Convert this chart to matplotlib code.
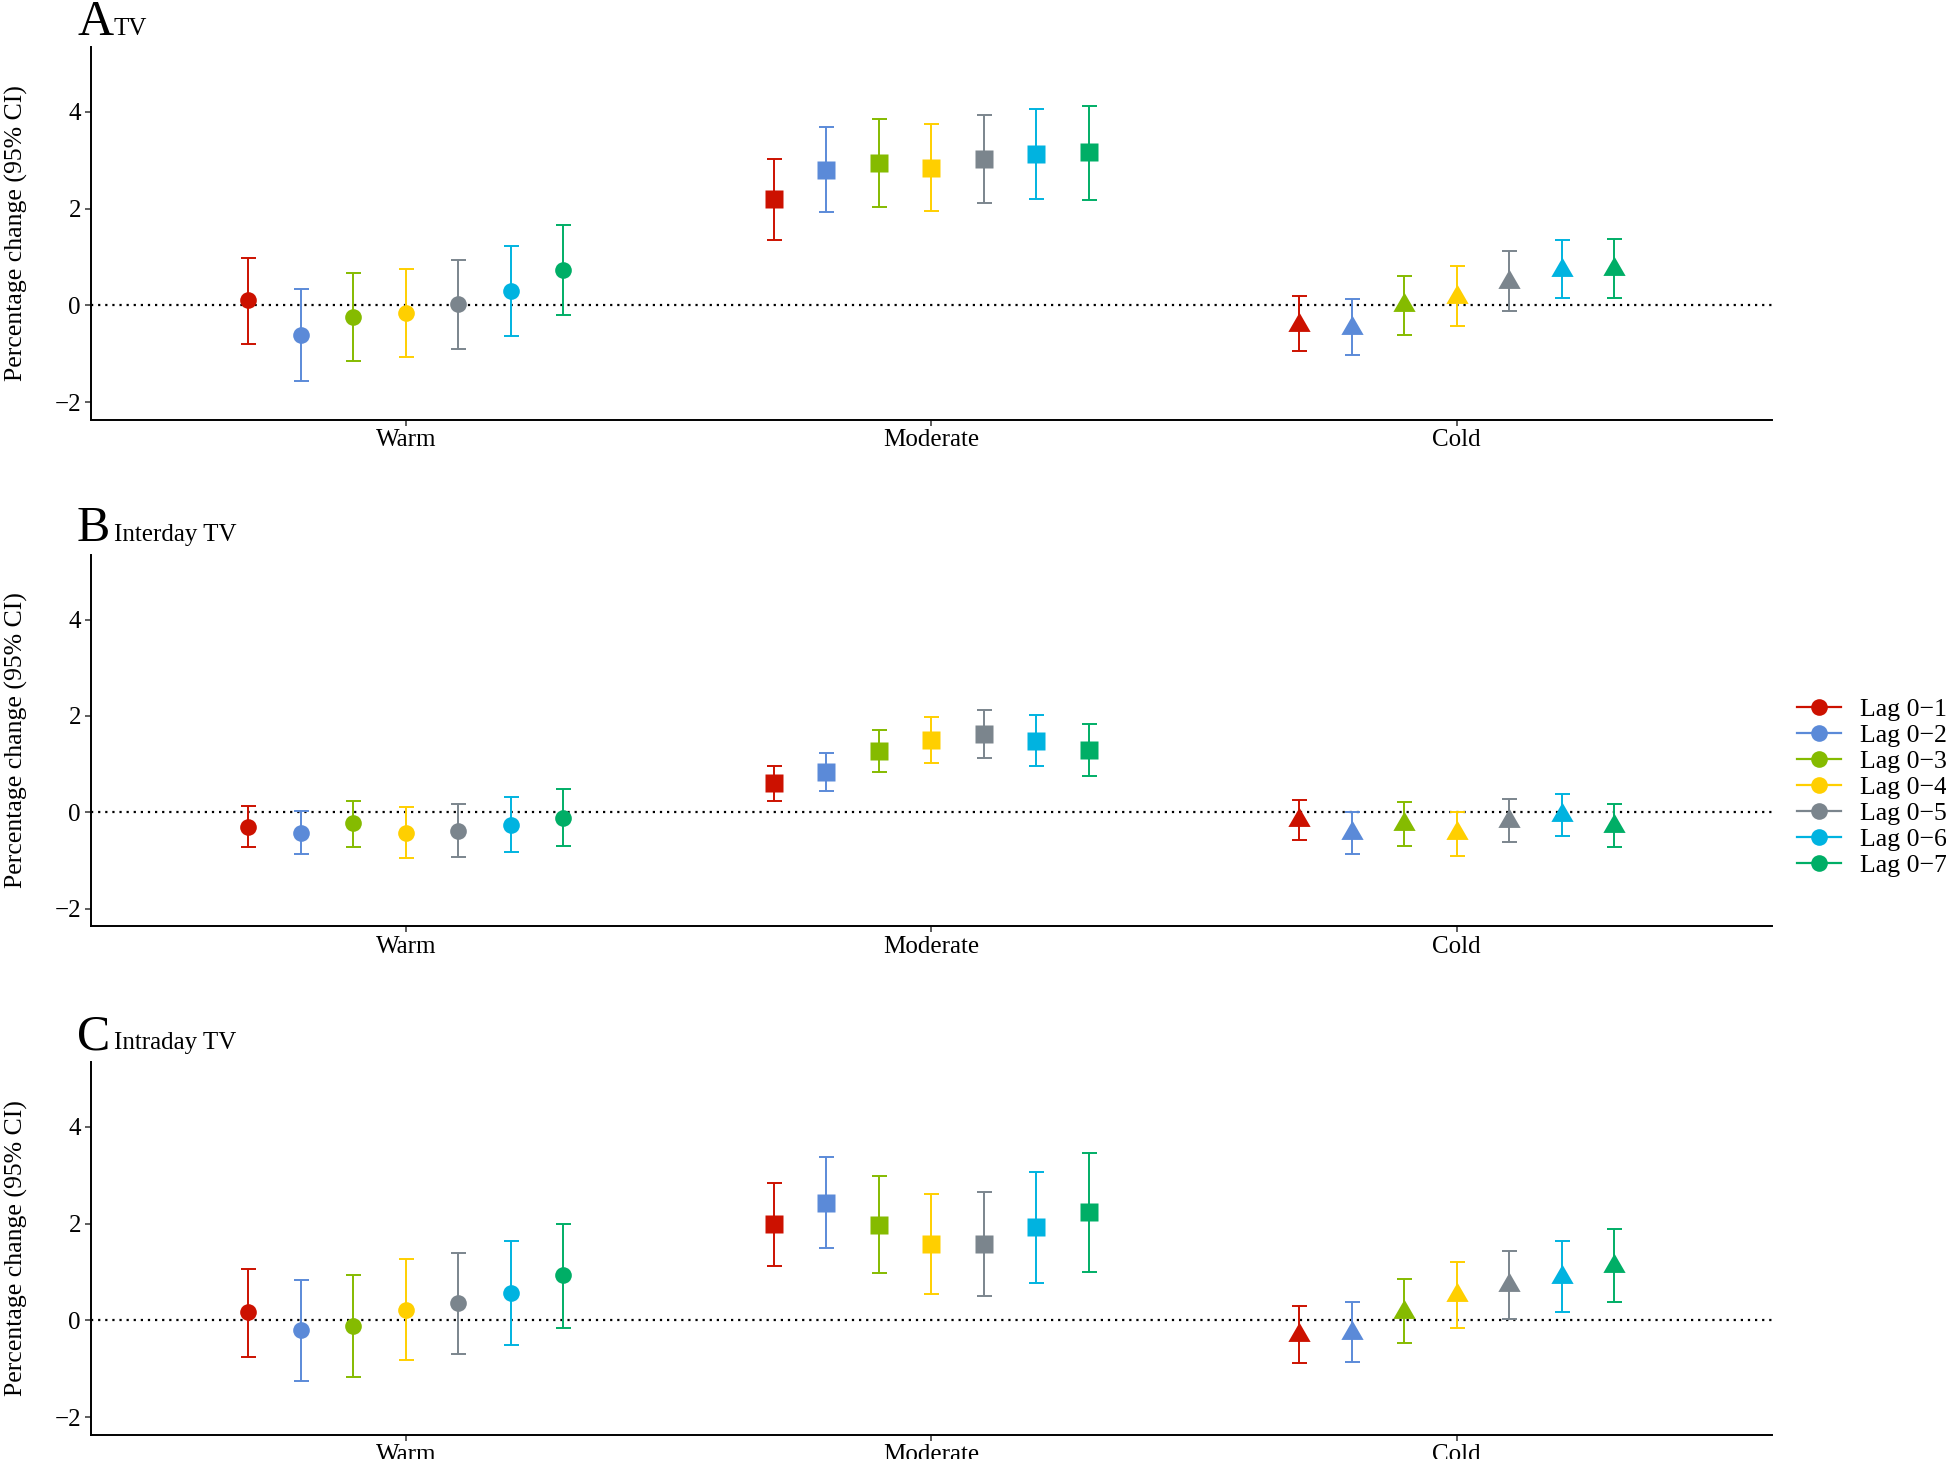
import matplotlib
matplotlib.use("Agg")
import matplotlib.pyplot as plt
from matplotlib.lines import Line2D
import numpy as np

plt.rcParams['font.family'] = ['Liberation Serif', 'DejaVu Serif']

categories = ["Warm", "Moderate", "Cold"]
lags = ["Lag 0\u22121", "Lag 0\u22122", "Lag 0\u22123", "Lag 0\u22124",
        "Lag 0\u22125", "Lag 0\u22126", "Lag 0\u22127"]
colors = ["#CC1100", "#5B8AD8", "#85BB00", "#FFCF00", "#7B858D", "#00B3E0", "#00AE66"]

# Panel A: TV  (rows: Warm, Moderate, Cold; columns: Lag 0-1 ... Lag 0-7)
tv_est = [[0.10, -0.62, -0.24, -0.16, 0.02, 0.30, 0.74],
          [2.20, 2.79, 2.94, 2.84, 3.03, 3.12, 3.16],
          [-0.40, -0.46, 0.00, 0.18, 0.49, 0.74, 0.76]]
tv_lo = [[-0.79, -1.56, -1.16, -1.07, -0.91, -0.63, -0.20],
         [1.36, 1.92, 2.04, 1.94, 2.12, 2.19, 2.18],
         [-0.95, -1.03, -0.61, -0.42, -0.11, 0.15, 0.16]]
tv_hi = [[0.97, 0.34, 0.67, 0.75, 0.93, 1.23, 1.66],
         [3.02, 3.68, 3.85, 3.74, 3.93, 4.05, 4.13],
         [0.19, 0.14, 0.60, 0.81, 1.12, 1.36, 1.38]]

# Panel B: Interday TV
inter_est = [[-0.30, -0.42, -0.23, -0.42, -0.38, -0.26, -0.11],
             [0.60, 0.84, 1.27, 1.50, 1.63, 1.48, 1.30],
             [-0.15, -0.43, -0.25, -0.44, -0.18, -0.05, -0.28]]
inter_lo = [[-0.72, -0.87, -0.72, -0.95, -0.92, -0.83, -0.69],
            [0.23, 0.44, 0.83, 1.02, 1.13, 0.97, 0.76],
            [-0.58, -0.86, -0.69, -0.90, -0.62, -0.49, -0.72]]
inter_hi = [[0.14, 0.03, 0.24, 0.11, 0.17, 0.32, 0.48],
            [0.97, 1.24, 1.70, 1.97, 2.12, 2.01, 1.83],
            [0.26, 0.00, 0.21, 0.00, 0.27, 0.39, 0.17]]

# Panel C: Intraday TV
intra_est = [[0.17, -0.21, -0.11, 0.22, 0.35, 0.57, 0.93],
             [1.99, 2.43, 1.98, 1.57, 1.57, 1.92, 2.24],
             [-0.31, -0.26, 0.18, 0.52, 0.73, 0.90, 1.12]]
intra_lo = [[-0.75, -1.26, -1.18, -0.83, -0.70, -0.50, -0.16],
            [1.13, 1.49, 0.97, 0.54, 0.50, 0.78, 1.00],
            [-0.89, -0.87, -0.47, -0.16, 0.03, 0.18, 0.38]]
intra_hi = [[1.07, 0.83, 0.94, 1.26, 1.39, 1.63, 2.00],
            [2.83, 3.37, 2.98, 2.61, 2.65, 3.06, 3.46],
            [0.29, 0.38, 0.85, 1.21, 1.44, 1.63, 1.88]]

panels = [("A", "TV", tv_est, tv_lo, tv_hi),
          ("B", "Interday TV", inter_est, inter_lo, inter_hi),
          ("C", "Intraday TV", intra_est, intra_lo, intra_hi)]

W, H = 1946, 1459
fig = plt.figure(figsize=(W / 100, H / 100), dpi=100)

# axes boxes in pixels: (top, bottom)
boxes = [(47, 419.5), (555, 926), (1062, 1434.5)]
left_px, right_px = 90.6, 1772
title_base = [35, 541, 1049]

tri = [(0, 1), (-0.866, -0.5), (0.866, -0.5)]
cat_markers = ['o', 's', tri]
cat_ms = [12, 12.5, 18.5]

for (letter, sub, est, lo, hi), (top, bot), tb in zip(panels, boxes, title_base):
    ax = fig.add_axes([left_px / W, 1 - bot / H, (right_px - left_px) / W, (bot - top) / H])
    ax.axhline(0, color='black', linestyle=(0, (1, 2.2)), lw=1.6, zorder=1)
    for ci, cat in enumerate(categories):
        for li in range(len(lags)):
            x = ci + 1 + (li - 3) * 0.1
            e = est[ci][li]
            ax.errorbar([x], [e], yerr=[[e - lo[ci][li]], [hi[ci][li] - e]],
                        fmt='none', ecolor=colors[li], elinewidth=1.4,
                        capsize=5.4, capthick=1.4, zorder=2)
            ax.plot([x], [e], linestyle='none', marker=cat_markers[ci],
                    ms=cat_ms[ci], color=colors[li], mec='none', zorder=3)
    ax.set_xlim(0.4, 3.6)
    ax.set_ylim(-2.36, 5.34)
    ax.set_xticks([1, 2, 3])
    ax.set_xticklabels(categories)
    ax.set_yticks([-2, 0, 2, 4])
    for s in ['top', 'right']:
        ax.spines[s].set_visible(False)
    for s in ['left', 'bottom']:
        ax.spines[s].set_linewidth(1.4)
    ax.tick_params(axis='both', labelsize=18, length=4, width=1.1, colors='#333333',
                   labelcolor='black', pad=3)
    ax.set_ylabel("Percentage change (95% CI)", fontsize=18.5, labelpad=19)
    fig.text(77 / W, 1 - tb / H, letter, fontsize=36, va='baseline', ha='left')
    fig.text(114 / W, 1 - tb / H, sub, fontsize=18, va='baseline', ha='left')

handles = [Line2D([0], [0], color=c, lw=1.6, marker='o', ms=12, mec='none') for c in colors]
fig.legend(handles, lags, loc='upper left', bbox_to_anchor=(1797 / W, 1 - 698 / H),
           frameon=False, fontsize=18.5, handlelength=1.7, handletextpad=0.75,
           labelspacing=0.12, borderpad=0, borderaxespad=0)

fig.savefig("out.png", dpi=100)
